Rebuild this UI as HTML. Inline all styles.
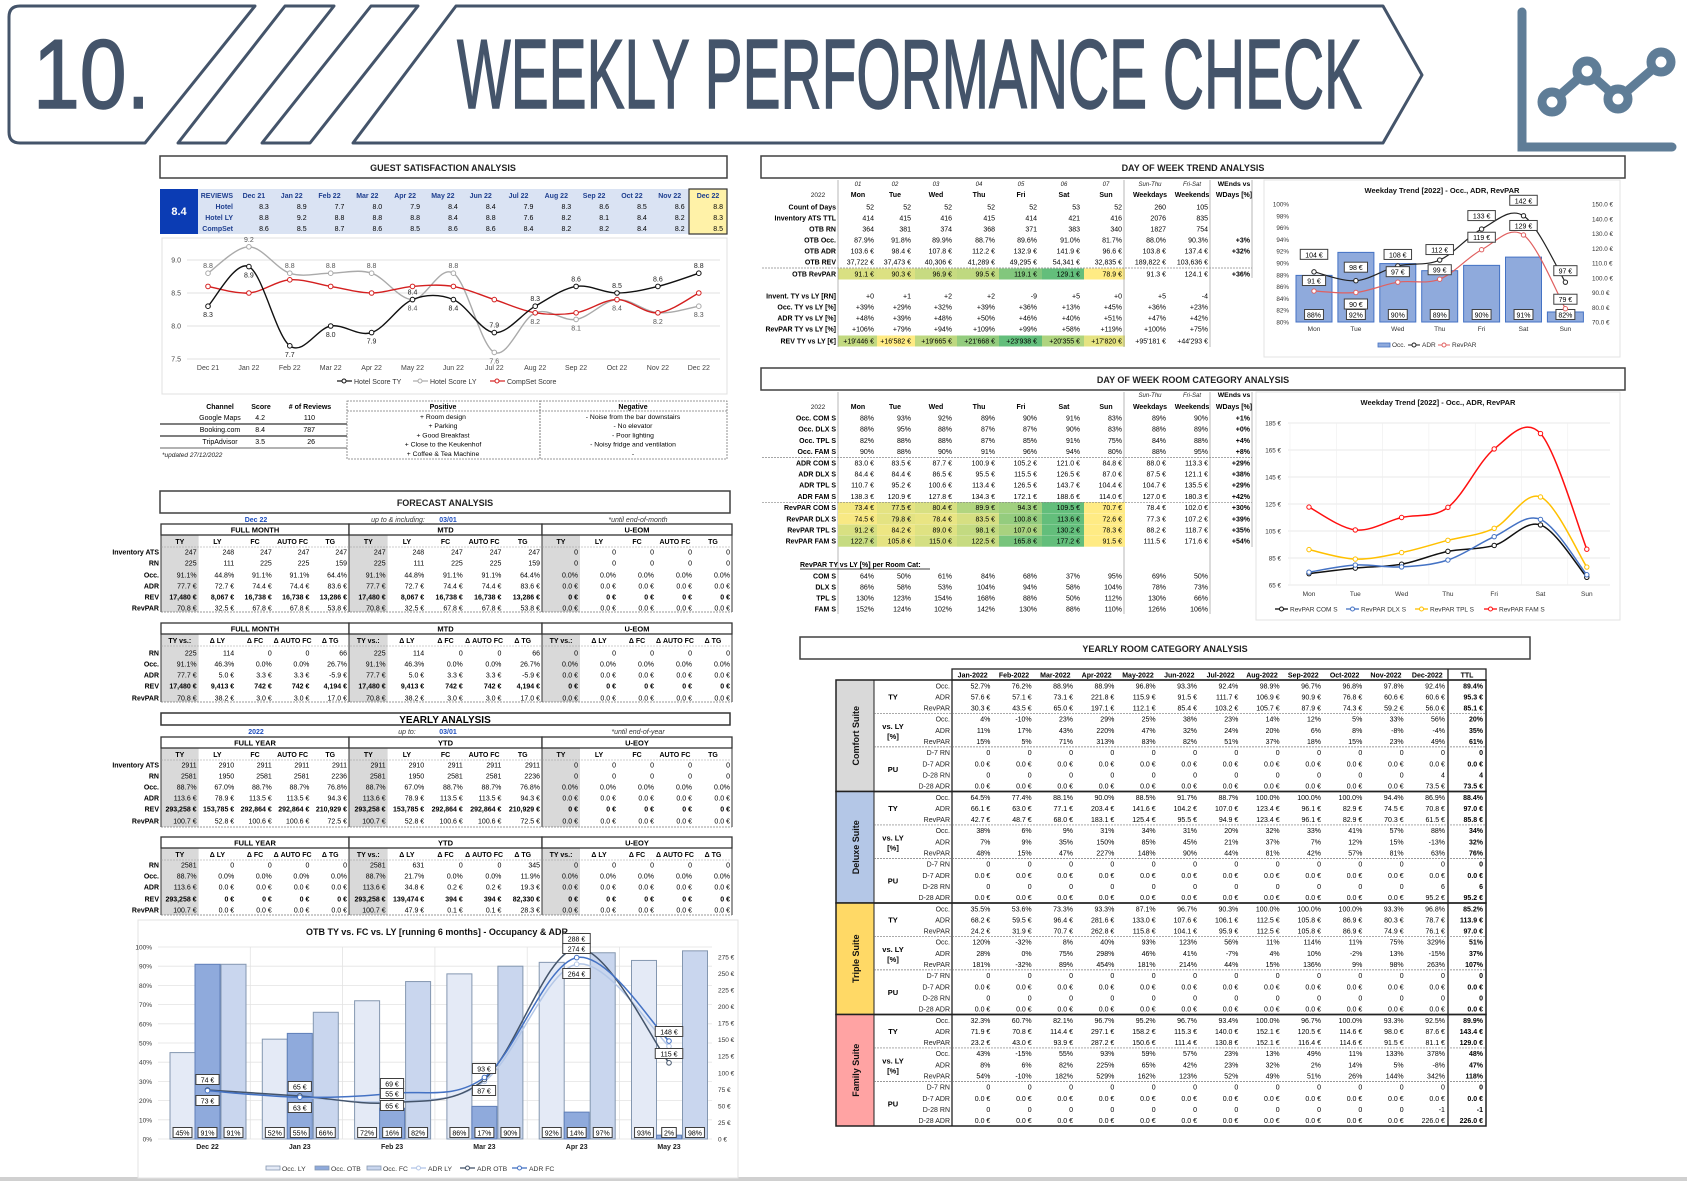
<!DOCTYPE html>
<html><head><meta charset="utf-8">
<style>
html,body{margin:0;padding:0;background:#fff;}
#wrap{position:relative;width:1687px;height:1181px;overflow:hidden;background:#fff;}
svg{position:absolute;left:0;top:0;font-family:"Liberation Sans",Arial,sans-serif;}
.h{font-family:"Liberation Sans Narrow","Liberation Sans",sans-serif;}
</style></head>
<body><div id="wrap">
<svg id="s" width="1687" height="1181" viewBox="0 0 1687 1181" xmlns="http://www.w3.org/2000/svg">
<g fill="#fff" stroke="#44546a" stroke-width="3" stroke-linejoin="round">
<path d="M20,6 L255,6 L145,143 L20,143 Q9,143 9,132 L9,17 Q9,6 20,6 Z"/>
<path d="M285,6 L334,6 L226,143 L178,143 Z"/>
<path d="M371,6 L418,6 L310,143 L262,143 Z"/>
<path d="M456,6 L1383,6 L1422,75 L1383,143 L353,143 Z"/>
</g>
<text class="h" x="33" y="108" font-size="98" fill="#44546a" stroke="#44546a" stroke-width="1.5" textLength="117" lengthAdjust="spacingAndGlyphs">10.</text>
<text class="h" x="457" y="108" font-size="98" fill="#44546a" stroke="#44546a" stroke-width="1.5" textLength="905" lengthAdjust="spacingAndGlyphs">WEEKLY PERFORMANCE CHECK</text>
<g stroke="#5f7d97" fill="none" stroke-linecap="round">
<path d="M1522,12 L1522,147 L1672,147" stroke-width="9"/>
<path d="M1552,102 L1587,71 L1618,99 L1661,62" stroke-width="9"/>
<g fill="#fff" stroke-width="9"><circle cx="1552" cy="102" r="10"/><circle cx="1587" cy="71" r="10"/><circle cx="1618" cy="99" r="10"/><circle cx="1661" cy="62" r="10"/></g>
</g>
<rect x="0" y="1177" width="1687" height="4" fill="#d0d0d0"/>
</svg>
</div>
<script>
var o='';
function T(x,y,s,fs,a,c,b,it){o+='<text x="'+x+'" y="'+y+'" font-size="'+(fs||7.5)+'" text-anchor="'+(a||'middle')+'" fill="'+(c||'#000')+'"'+(b?' font-weight="bold"':'')+(it?' font-style="italic"':'')+'>'+s+'</text>';}
function R(x,y,w,h,f,st,sw,extra){o+='<rect x="'+x+'" y="'+y+'" width="'+w+'" height="'+h+'" fill="'+(f||'none')+'" stroke="'+(st||'none')+'" stroke-width="'+(sw||1)+'" '+(extra||'')+'/>';}
function L(x1,y1,x2,y2,c,w,d){o+='<line x1="'+x1+'" y1="'+y1+'" x2="'+x2+'" y2="'+y2+'" stroke="'+(c||'#000')+'" stroke-width="'+(w||1)+'"'+(d?' stroke-dasharray="'+d+'"':'')+'/>';}
function P(d,c,w,f){o+='<path d="'+d+'" stroke="'+c+'" stroke-width="'+(w||1)+'" fill="'+(f||'none')+'"/>';}
function C(x,y,r,c,f){o+='<circle cx="'+x+'" cy="'+y+'" r="'+r+'" stroke="'+c+'" stroke-width="1" fill="'+(f||'#fff')+'"/>';}
function sm(p){var d='M'+p[0][0]+','+p[0][1];for(var i=0;i<p.length-1;i++){var p0=p[i-1]||p[i],p1=p[i],p2=p[i+1],p3=p[i+2]||p2;d+=' C'+(p1[0]+(p2[0]-p0[0])/6)+','+(p1[1]+(p2[1]-p0[1])/6)+' '+(p2[0]-(p3[0]-p1[0])/6)+','+(p2[1]-(p3[1]-p1[1])/6)+' '+p2[0]+','+p2[1];}return d;}
function num(s){return parseFloat(String(s).replace(/[^0-9.\-]/g,''));}
function cs(v,mn,mx){var t=(v-mn)/(mx-mn);if(!(t>=0))t=0;var r=Math.round(255+(99-255)*t),g=Math.round(235+(190-235)*t),b=Math.round(132+(123-132)*t);return 'rgb('+r+','+g+','+b+')';}
function TB(x,y,w,h){R(x,y,w,h,'#fff','#404040',1.5);}
function lbox(x,y,s){var w=s.length*4.3+6;R(x-w/2,y-5.5,w,10,'#fff','#404040',1);T(x,y+2.5,s,7);}

/* ===== GUEST SATISFACTION ===== */
TB(160,156,567,22);T(443,171,'GUEST SATISFACTION ANALYSIS',9,'middle','#222',true);
R(198,189,491,45,'#dae3f3');R(160,189,38,45,'#0b3cb4');T(179,215,'8.4',11,'middle','#fff',true);
R(689,189,38,45,'#fff2a8','#333',1.2);
var mo=['Dec 21','Jan 22','Feb 22','Mar 22','Apr 22','May 22','Jun 22','Jul 22','Aug 22','Sep 22','Oct 22','Nov 22','Dec 22'];
var gTY=['8.3','8.9','7.7','8.0','7.9','8.4','8.4','7.9','8.3','8.6','8.5','8.6','8.8'];
var gLY=['8.8','9.2','8.8','8.8','8.8','8.4','8.8','7.6','8.2','8.1','8.4','8.2','8.3'];
var gCS=['8.6','8.5','8.7','8.6','8.5','8.6','8.6','8.4','8.2','8.2','8.4','8.2','8.5'];
T(233,198,'REVIEWS',7,'end','#1f3f8f',true);T(233,209,'Hotel',7,'end','#1f3f8f',true);T(233,220,'Hotel LY',7,'end','#1f3f8f',true);T(233,231,'CompSet',7,'end','#1f3f8f',true);
for(var i=0;i<13;i++){var x0=i<12?235+i*37.8:689,x1=i<12?x0+37.8:727;T((x0+x1)/2,198,mo[i],7,'middle','#1f3f8f',true);T(x1-4,209,gTY[i],7,'end');T(x1-4,220,gLY[i],7,'end');T(x1-4,231,gCS[i],7,'end');}
R(162,238,565,156,'#fff','#e0e0e0',1);
[[9.0,260],[8.5,293],[8.0,326],[7.5,359]].forEach(function(a){L(187,a[1],720,a[1],'#d9d9d9',0.8);T(181,a[1]+2.5,a[0].toFixed(1),7,'end','#444');});
function gy(v){return 359-(v-7.5)*66;}function gx(i){return 208+i*40.9;}
var sers=[[gLY,'#aaa'],[gCS,'#d42020'],[gTY,'#111']];
sers.forEach(function(s){var p=s[0].map(function(v,i){return [gx(i),gy(num(v))];});P(sm(p),s[1],1.4);p.forEach(function(q){C(q[0],q[1],2.3,s[1]);});});
for(var i=0;i<13;i++){var ty=num(gTY[i]),ly=num(gLY[i]);T(gx(i),ty>=ly?gy(ty)-5:gy(ty)+11,gTY[i],7,'middle','#222');T(gx(i),ly>ty?gy(ly)-5:gy(ly)+11,gLY[i],7,'middle','#555');T(gx(i),370,mo[i],7,'middle','#444');}
L(337,381,352,381,'#111',1.2);C(344,381,2,'#111');T(354,384,'Hotel Score TY',7,'start','#333');
L(413,381,428,381,'#aaa',1.2);C(420,381,2,'#aaa');T(430,384,'Hotel Score LY',7,'start','#333');
L(490,381,505,381,'#d42020',1.2);C(497,381,2,'#d42020');T(507,384,'CompSet Score',7,'start','#333');
T(220,409,'Channel',7,'middle','#000',true);T(261,409,'Score',7,'middle','#000',true);T(310,409,'# of Reviews',7,'middle','#000',true);
[['Google Maps','4.2','110'],['Booking.com','8.4','787'],['TripAdvisor','3.5','26']].forEach(function(r,i){var y=420+i*12;T(220,y,r[0],7);T(265,y,r[1],7,'end');T(315,y,r[2],7,'end');});
L(160,424,347,424,'#333',1.2);L(160,436,347,436,'#333',1.2);L(160,448,347,448,'#333',0.8);
T(162,457,'*updated 27/12/2022',6.5,'start','#222',false,true);
R(347,401,193,58,'none','#777',0.8,'stroke-dasharray="2,1"');R(540,401,187,58,'none','#777',0.8,'stroke-dasharray="2,1"');L(347,411,727,411,'#777',0.8,'2,1');
T(443,409,'Positive',7,'middle','#000',true);T(633,409,'Negative',7,'middle','#000',true);
['+ Room design','+ Parking','+ Good Breakfast','+ Close to the Keukenhof','+ Coffee &amp; Tea Machine'].forEach(function(s,i){T(443,419+i*9.2,s,6.8);});
['- Noise from the bar downstairs','- No elevator','- Poor lighting','- Noisy fridge and ventilation','-'].forEach(function(s,i){T(633,419+i*9.2,s,6.8);});

/* ===== FORECAST ===== */
TB(160,491,570,22);T(445,506,'FORECAST ANALYSIS',9,'middle','#222',true);
var GX=[161,349,542,732];
function ftab(y0,gt,hd,lab,data,rowY,bot){
 for(var g=0;g<3;g++){var gw=GX[g+1]-GX[g],w=gw/5;R(GX[g],y0+11,w,bot-y0-11,'#d9d9d9');
  R(GX[g],y0,gw,11,'#fff','#333',1.3);T(GX[g]+gw/2,y0+8.5,gt[g],7.5,'middle','#000',true);
  for(var c=0;c<5;c++){T(GX[g]+c*w+w/2,y0+20,hd[g][c],7,'middle','#000',true);
   for(var r=0;r<lab.length;r++){T(GX[g]+(c+1)*w-2,rowY[r]+2.5,data[g][r][c],7,'end','#000',lab[r]=='REV');}}
  L(GX[g],y0,GX[g],bot,'#333',1);}
 L(GX[3],y0,GX[3],bot,'#333',1);L(GX[0],bot,GX[3],bot,'#777',0.8,'2,1');L(GX[0],y0+23,GX[3],y0+23,'#999',0.6,'2,1');
 for(var r=0;r<lab.length;r++)T(159,rowY[r]+2.5,lab[r],7,'end','#000',true);}
var h5=['TY','LY','FC','AUTO FC','TG'],hv=['TY vs.:','Δ LY','Δ FC','Δ AUTO FC','Δ TG'];
var fm=[['247','248','247','247','247'],['225','111','225','225','159'],['91.1%','44.8%','91.1%','91.1%','64.4%'],['77.7 €','72.7 €','74.4 €','74.4 €','83.6 €'],['17,480 €','8,067 €','16,738 €','16,738 €','13,286 €'],['70.8 €','32.5 €','67.8 €','67.8 €','53.8 €']];
var z6=[['0','0','0','0','0'],['0','0','0','0','0'],['0.0%','0.0%','0.0%','0.0%','0.0%'],['0.0 €','0.0 €','0.0 €','0.0 €','0.0 €'],['0 €','0 €','0 €','0 €','0 €'],['0.0 €','0.0 €','0.0 €','0.0 €','0.0 €']];
var z5=z6.slice(1);
T(256,522,'Dec 22',7,'middle','#1f4fbf',true);T(398,522,'up to &amp; including:',7,'middle','#333',false,true);T(448,522,'03/01',7,'middle','#1f4fbf',true);T(638,522,'*until end-of-month',7,'middle','#333',false,true);
ftab(524,['FULL MONTH','MTD','U-EOM'],[h5,h5,h5],['Inventory ATS','RN','Occ.','ADR','REV','RevPAR'],[fm,fm,z6],[552,563,575,586,597,608],612);
var fd=[['225','114','0','0','66'],['91.1%','46.3%','0.0%','0.0%','26.7%'],['77.7 €','5.0 €','3.3 €','3.3 €','-5.9 €'],['17,480 €','9,413 €','742 €','742 €','4,194 €'],['70.8 €','38.2 €','3.0 €','3.0 €','17.0 €']];
ftab(623,['FULL MONTH','MTD','U-EOM'],[hv,hv,hv],['RN','Occ.','ADR','REV','RevPAR'],[fd,fd,z5],[653,664,675,686,698],702);
R(161,713,569,12,'#fff','#333',1.5);T(445,723,'YEARLY ANALYSIS',10,'middle','#000',true);
T(256,734,'2022',7,'middle','#1f4fbf',true);T(407,734,'up to:',7,'middle','#333',false,true);T(448,734,'03/01',7,'middle','#1f4fbf',true);T(638,734,'*until end-of-year',7,'middle','#333',false,true);
var fy=[['2911','2910','2911','2911','2911'],['2581','1950','2581','2581','2236'],['88.7%','67.0%','88.7%','88.7%','76.8%'],['113.6 €','78.9 €','113.5 €','113.5 €','94.3 €'],['293,258 €','153,785 €','292,864 €','292,864 €','210,929 €'],['100.7 €','52.8 €','100.6 €','100.6 €','72.5 €']];
ftab(737,['FULL YEAR','YTD','U-EOY'],[h5,h5,h5],['Inventory ATS','RN','Occ.','ADR','REV','RevPAR'],[fy,fy,z6],[765,776,787,798,809,821],827);
var yf=[['2581','0','0','0','0'],['88.7%','0.0%','0.0%','0.0%','0.0%'],['113.6 €','0.0 €','0.0 €','0.0 €','0.0 €'],['293,258 €','0 €','0 €','0 €','0 €'],['100.7 €','0.0 €','0.0 €','0.0 €','0.0 €']];
var yy=[['2581','631','0','0','345'],['88.7%','21.7%','0.0%','0.0%','11.9%'],['113.6 €','34.8 €','0.2 €','0.2 €','19.3 €'],['293,258 €','139,474 €','394 €','394 €','82,330 €'],['100.7 €','47.9 €','0.1 €','0.1 €','28.3 €']];
ftab(837,['FULL YEAR','YTD','U-EOY'],[['TY','Δ LY','Δ FC','Δ AUTO FC','Δ TG'],hv,hv],['RN','Occ.','ADR','REV','RevPAR'],[yf,yy,z5],[865,876,887,899,910],915);

/* ===== OTB CHART ===== */
R(138,920,600,258,'#fff','#e3e3e3',1);
T(437,935,'OTB TY vs. FC vs. LY [running 6 months] - Occupancy &amp; ADR',9,'middle','#111',true);
var pb=1139,ph=192;
for(var k=0;k<=10;k++){var y=pb-k*ph/10;L(158,y,712,y,'#e3e3e3',0.8);T(152,y+2.5,(k*10)+'%',6.5,'end','#333');}
for(var k=0;k<=11;k++){var y=pb-k*25*ph/290;T(718,y+2.5,(k*25)+' €',6.5,'start','#333');}
for(var g=1;g<6;g++)L(158+g*92.3,947,158+g*92.3,pb,'#e3e3e3',0.8);
var oLY=[45,52,72,86,92,93],oOTB=[91,55,16,17,14,2],oFC=[91,66,82,90,97,98],om=['Dec 22','Jan 23','Feb 23','Mar 23','Apr 23','May 23'];
for(var g=0;g<6;g++){var x=158+g*92.3;
 R(x+12,pb-oLY[g]*1.92,25,oLY[g]*1.92,'#e4eaf6','#8497b0',1);R(x+37,pb-oOTB[g]*1.92,25,oOTB[g]*1.92,'#8faadc','#5f7fb8',1);R(x+63,pb-oFC[g]*1.92,25,oFC[g]*1.92,'#c9d6ee','#8497b0',1);
 lbox(x+24.5,1133,oLY[g]+'%');lbox(x+49.5,1133,oOTB[g]+'%');lbox(x+75.5,1133,oFC[g]+'%');T(x+49.5,1149,om[g],7,'middle','#222',true);}
function ay(v){return pb-v*ph/290;}
var aLY=[73,63,57,87,264,140],aOTB=[74,65,55,90,288,115],aFC=[73,63,69,93,274,148];
[[aLY,'#b4c7e7'],[aOTB,'#44546a'],[aFC,'#4472c4']].forEach(function(s){var p=s[0].map(function(v,i){return [158+i*92.3+49.5,ay(v)];});P(sm(p),s[1],1.5);p.forEach(function(q){C(q[0],q[1],2.3,s[1]);});});
[[207.5,1080,'74 €'],[207.5,1101,'73 €'],[299.8,1087,'65 €'],[299.8,1108,'63 €'],[392,1084,'69 €'],[392,1094,'55 €'],[392,1106,'65 €'],[484,1069,'93 €'],[484,1091,'87 €'],[576.5,939,'288 €'],[576.5,949,'274 €'],[576.5,974,'264 €'],[669,1032,'148 €'],[669,1054,'115 €']].forEach(function(a){lbox(a[0],a[1],a[2]);});
var lg=[['Occ. LY',282,'#e4eaf6','b'],['Occ. OTB',331,'#8faadc','b'],['Occ. FC',383,'#c9d6ee','b'],['ADR LY',428,'#b4c7e7','l'],['ADR OTB',477,'#44546a','l'],['ADR FC',529,'#4472c4','l']];
lg.forEach(function(a){if(a[3]=='b')R(a[1]-16,1166,14,4,a[2],'#8497b0',0.8);else{L(a[1]-17,1168,a[1]-2,1168,a[2],1.3);C(a[1]-9.5,1168,2,a[2]);}T(a[1],1171,a[0],6.8,'start','#333');});

/* ===== DAY OF WEEK TREND ===== */
TB(761,156,864,22);T(1193,171,'DAY OF WEEK TREND ANALYSIS',9,'middle','#222',true);
var RE=[874,911,952,995,1037,1080,1122,1166,1208,1250],CB=[838,877,915,957,999,1042,1084,1125];
var dn=['Mon','Tue','Wed','Thu','Fri','Sat','Sun','Weekdays','Weekends','WDays [%]'];
function dhead(y1,y2,nums){if(nums)for(var i=0;i<7;i++)T(RE[i]-16,y1,'0'+(i+1),6,'middle','#222',false,true);
 T(RE[7]-16,y1,'Sun-Thu',6,'middle','#222',false,true);T(RE[8]-16,y1,'Fri-Sat',6,'middle','#222',false,true);T(RE[9]-16,y1,'WEnds vs',6.8,'middle','#000',true);
 T(818,y2,'2022',6.5,'middle','#222');for(var i=0;i<10;i++)T(RE[i]-16,y2,dn[i],7,'middle','#000',true);}
function drow(y,lab,vals,col){if(col){var v7=vals.slice(0,7).map(num),mn=Math.min.apply(null,v7),mx=Math.max.apply(null,v7);for(var i=0;i<7;i++)R(CB[i],y-5.5,CB[i+1]-CB[i],11,cs(v7[i],mn,mx));}
 T(836,y+2.5,lab,7,'end','#000',true);for(var i=0;i<vals.length;i++)T(RE[i],y+2.5,vals[i],7,'end','#000',i==9);}
dhead(186,197,true);
var d1=[['Count of Days',['52','52','52','52','52','53','52','260','105','']],['Inventory ATS TTL',['414','415','416','415','414','421','416','2076','835','']],['OTB RN',['364','381','374','368','371','383','340','1827','754','']],['OTB Occ.',['87.9%','91.8%','89.9%','88.7%','89.6%','91.0%','81.7%','88.0%','90.3%','+3%']],['OTB ADR',['103.6 €','98.4 €','107.8 €','112.2 €','132.9 €','141.9 €','96.6 €','103.8 €','137.4 €','+32%']],['OTB REV',['37,722 €','37,473 €','40,306 €','41,289 €','49,295 €','54,341 €','32,835 €','189,822 €','103,636 €','']],['OTB RevPAR',['91.1 €','90.3 €','96.9 €','99.5 €','119.1 €','129.1 €','78.9 €','91.3 €','124.1 €','+36%'],1]];
var ys1=[207,218,229,240,251,262,274];d1.forEach(function(r,i){drow(ys1[i],r[0],r[1],r[2]);});L(762,268,1252,268,'#888',0.7,'2,1');
var d2=[['Invent. TY vs LY [RN]',['+0','+1','+2','+2','-9','+5','+0','+5','-4']],['Occ. TY vs LY [%]',['+39%','+29%','+32%','+39%','+36%','+13%','+45%','+36%','+23%']],['ADR TY vs LY [%]',['+48%','+39%','+48%','+50%','+46%','+40%','+51%','+47%','+42%']],['RevPAR TY vs LY [%]',['+106%','+79%','+94%','+109%','+99%','+58%','+119%','+100%','+75%']],['REV TY vs LY [€]',["+19'446 €","+16'582 €","+19'665 €","+21'668 €","+23'938 €","+20'355 €","+17'820 €","+95'181 €","+44'293 €"],1]];
var ys2=[296,307,318,329,341];d2.forEach(function(r,i){drow(ys2[i],r[0],r[1],r[2]);});
[838,1124,1210].forEach(function(x){L(x,180,x,347,'#999',0.7);L(x,392,x,614,'#999',0.7);});L(1252,180,1252,278,'#999',0.7);L(1252,392,1252,547,'#999',0.7);
/* chart1 */
R(1264,180,356,177,'#fff','#e3e3e3',1);T(1442,193,'Weekday Trend [2022] - Occ., ADR, RevPAR',7.5,'middle','#111',true);
for(var k=0;k<=10;k++){var y=322-k*11.8;T(1289,y+2.5,(80+2*k)+'%',6.3,'end','#333');}
for(var k=0;k<=8;k++){var y=322-k*14.75;T(1592,y+2.5,(70+10*k)+'.0 €',6.3,'start','#333');}
var wd=['Mon','Tue','Wed','Thu','Fri','Sat','Sun'],occ=[87.9,91.8,89.9,88.7,89.6,91.0,81.7],adr=[104,98,108,112,133,142,97],rvp=[91,90,97,99,119,129,79];
for(var i=0;i<7;i++){var cx=1293+i*41.9+21;R(cx-18,322-(occ[i]-80)*5.9,36,(occ[i]-80)*5.9,'#8faadc','#4472c4',1);T(cx,331,wd[i],6.5,'middle','#333');lbox(cx,315,Math.round(occ[i])+'%');}
function cy1(v){return 322-(v-70)*1.475;}
[[rvp,'#e06060'],[adr,'#222']].forEach(function(s){var p=s[0].map(function(v,i){return [1293+i*41.9+21,cy1(v)];});P(sm(p),s[1],1.2);p.forEach(function(q){C(q[0],q[1],2.2,s[1]);});});
var aoff=[-17,-13,-11,-10,-13,-15,-11],roff=[-10,12,-10,-9,-12,-9,-9];
for(var i=0;i<7;i++){var cx=1293+i*41.9+21;lbox(cx,cy1(adr[i])+aoff[i],adr[i]+' €');lbox(cx,cy1(rvp[i])+roff[i],rvp[i]+' €');}
R(1378,343,12,4,'#8faadc','#4472c4',0.8);T(1392,347,'Occ.',6.5,'start','#333');L(1408,345,1420,345,'#222',1);C(1414,345,2,'#222');T(1422,347,'ADR',6.5,'start','#333');L(1438,345,1450,345,'#e06060',1);C(1444,345,2,'#e06060');T(1452,347,'RevPAR',6.5,'start','#333');

/* ===== DAY OF WEEK ROOM CATEGORY ===== */
TB(761,368,864,22);T(1193,383,'DAY OF WEEK ROOM CATEGORY ANALYSIS',9,'middle','#222',true);
dhead(397,409,false);
var d3=[['Occ. COM S',['88%','93%','92%','89%','90%','91%','83%','89%','90%','+1%']],['Occ. DLX S',['88%','95%','88%','87%','87%','90%','83%','88%','89%','+0%']],['Occ. TPL S',['82%','88%','88%','87%','85%','91%','75%','84%','88%','+4%']],['Occ. FAM S',['90%','88%','90%','91%','96%','94%','80%','88%','95%','+8%']],
['ADR COM S',['83.0 €','83.5 €','87.7 €','100.9 €','105.2 €','121.0 €','84.8 €','88.0 €','113.3 €','+29%']],['ADR DLX S',['84.4 €','84.4 €','86.5 €','95.5 €','115.5 €','126.5 €','87.0 €','87.5 €','121.1 €','+38%']],['ADR TPL S',['110.7 €','95.2 €','100.6 €','113.4 €','126.5 €','143.7 €','104.4 €','104.7 €','135.5 €','+29%']],['ADR FAM S',['138.3 €','120.9 €','127.8 €','134.3 €','172.1 €','188.6 €','114.0 €','127.0 €','180.3 €','+42%']],
['RevPAR COM S',['73.4 €','77.5 €','80.4 €','89.9 €','94.3 €','109.5 €','70.7 €','78.4 €','102.0 €','+30%'],1],['RevPAR DLX S',['74.5 €','79.8 €','78.4 €','83.5 €','100.8 €','113.6 €','72.6 €','77.3 €','107.2 €','+39%'],1],['RevPAR TPL S',['91.2 €','84.2 €','89.0 €','98.1 €','107.0 €','130.2 €','78.3 €','88.2 €','118.7 €','+35%'],1],['RevPAR FAM S',['122.7 €','105.8 €','115.0 €','122.5 €','165.8 €','177.2 €','91.5 €','111.5 €','171.6 €','+54%'],1]];
d3.forEach(function(r,i){drow(418+i*11.2,r[0],r[1],r[2]);});L(762,457.5,1252,457.5,'#888',0.7,'2,1');L(762,502.3,1252,502.3,'#888',0.7,'2,1');
T(800,567,'RevPAR TY vs LY [%] per Room Cat:',7,'start','#000',true);L(800,569,930,569,'#000',0.7);
var d4=[['COM S',['64%','50%','61%','84%','68%','37%','95%','69%','50%']],['DLX S',['86%','58%','53%','104%','94%','58%','104%','78%','73%']],['TPL S',['130%','123%','154%','168%','88%','50%','112%','130%','66%']],['FAM S',['152%','124%','102%','142%','130%','88%','110%','126%','106%']]];
d4.forEach(function(r,i){drow(576+i*11,r[0],r[1]);});
/* chart2 */
R(1256,392,364,228,'#fff','#e3e3e3',1);T(1438,405,'Weekday Trend [2022] - Occ., ADR, RevPAR',7.5,'middle','#111',true);
for(var k=0;k<=6;k++){var v=65+k*20,y=585-(v-65)*1.35;L(1288,y,1610,y,'#e3e3e3',0.8);T(1281,y+2.5,v+' €',6.3,'end','#333');}
for(var i=0;i<7;i++){var x=1290+i*46.3;L(x,423,x,585,'#eee',0.6);T(1309+i*46.3,596,wd[i],6.5,'middle','#333');}
var rc=[[[73.4,77.5,80.4,89.9,94.3,109.5,70.7],'#111'],[[74.5,79.8,78.4,83.5,100.8,113.6,72.6],'#4472c4'],[[91.2,84.2,89.0,98.1,107.0,130.2,78.3],'#ffc000'],[[122.7,105.8,115.0,122.5,165.8,177.2,91.5],'#ff1010']];
rc.forEach(function(s){var p=s[0].map(function(v,i){return [1309+i*46.3,585-(v-65)*1.35];});P(sm(p),s[1],1.5);p.forEach(function(q){C(q[0],q[1],2.2,s[1]);});});
[['RevPAR COM S',1290,'#111'],['RevPAR DLX S',1361,'#4472c4'],['RevPAR TPL S',1430,'#ffc000'],['RevPAR FAM S',1499,'#ff1010']].forEach(function(a){L(a[1]-15,609,a[1]-2,609,a[2],1.3);C(a[1]-8.5,609,2,a[2]);T(a[1],611.5,a[0],6.5,'start','#333');});

/* ===== YEARLY ROOM CATEGORY ===== */
TB(800,637,730,22);T(1165,652,'YEARLY ROOM CATEGORY ANALYSIS',9,'middle','#222',true);
var ym=['Jan-2022','Feb-2022','Mar-2022','Apr-2022','May-2022','Jun-2022','Jul-2022','Aug-2022','Sep-2022','Oct-2022','Nov-2022','Dec-2022','TTL'];
function yx(i){return i<12?952+i*41.33:1448;}function yw(i){return i<12?41.33:38;}
R(952,669,534,11,'#fff','#222',1.3);for(var i=0;i<13;i++)T(yx(i)+yw(i)/2,677.5,ym[i],7,'middle','#000',true);L(1448,669,1448,1126,'#222',1.3);
var ml=['Occ.','ADR','RevPAR','Occ.','ADR','RevPAR','D-7 RN','D-7 ADR','D-28 RN','D-28 ADR'];
function pu(rn,adr,ttlrn,ttladr){var a=[],b=[],c=[],d=[];for(var i=0;i<12;i++){a.push('0');b.push('0.0 €');c.push('0');d.push('0.0 €');}a.push('0');b.push('0.0 €');c[11]=rn;c.push(ttlrn);d[11]=adr;d.push(ttladr);return [a,b,c,d];}
var sec=[['Comfort Suite','#d9d9d9',[
['52.7%','76.2%','88.9%','88.9%','96.8%','93.3%','92.4%','98.9%','96.7%','96.8%','97.8%','92.4%','89.4%'],
['57.6 €','57.1 €','73.1 €','221.8 €','115.9 €','91.5 €','111.7 €','106.9 €','90.9 €','76.8 €','60.6 €','60.6 €','95.3 €'],
['30.3 €','43.5 €','65.0 €','197.1 €','112.1 €','85.4 €','103.2 €','105.7 €','87.9 €','74.3 €','59.2 €','56.0 €','85.1 €'],
['4%','-10%','23%','29%','25%','38%','23%','14%','12%','5%','33%','56%','20%'],
['11%','17%','43%','220%','47%','32%','24%','20%','6%','8%','-8%','-4%','35%'],
['15%','5%','71%','313%','83%','82%','51%','37%','18%','15%','23%','49%','61%']].concat(pu('4','73.5 €','4','73.5 €'))],
['Deluxe Suite','#b4c7e7',[
['64.5%','77.4%','88.1%','90.0%','88.5%','91.7%','88.7%','100.0%','100.0%','100.0%','94.4%','86.9%','88.4%'],
['66.1 €','63.0 €','77.1 €','203.4 €','141.6 €','104.2 €','107.0 €','123.4 €','96.1 €','82.9 €','74.5 €','70.8 €','97.0 €'],
['42.7 €','48.7 €','68.0 €','183.1 €','125.4 €','95.5 €','94.9 €','123.4 €','96.1 €','82.9 €','70.3 €','61.5 €','85.8 €'],
['38%','6%','9%','31%','34%','31%','20%','32%','33%','41%','57%','88%','34%'],
['7%','9%','35%','150%','85%','45%','21%','37%','7%','12%','15%','-13%','32%'],
['48%','15%','47%','227%','148%','90%','44%','81%','42%','57%','81%','63%','76%']].concat(pu('6','95.2 €','6','95.2 €'))],
['Triple Suite','#ffd966',[
['35.5%','53.6%','73.3%','93.3%','87.1%','96.7%','90.3%','100.0%','100.0%','100.0%','93.3%','96.8%','85.2%'],
['68.2 €','59.5 €','96.4 €','281.6 €','133.0 €','107.6 €','106.1 €','112.5 €','105.8 €','86.9 €','80.3 €','78.7 €','113.9 €'],
['24.2 €','31.9 €','70.7 €','262.8 €','115.8 €','104.1 €','95.9 €','112.5 €','105.8 €','86.9 €','74.9 €','76.1 €','97.0 €'],
['120%','-32%','8%','40%','93%','123%','56%','11%','114%','11%','75%','329%','51%'],
['28%','0%','75%','298%','46%','41%','-7%','4%','10%','-2%','13%','-15%','37%'],
['181%','-32%','89%','454%','181%','214%','44%','15%','136%','9%','98%','263%','107%']].concat(pu('0','0.0 €','0','0.0 €'))],
['Family Suite','#ffa3a3',[
['32.3%','60.7%','82.1%','96.7%','95.2%','96.7%','93.4%','100.0%','96.7%','100.0%','93.3%','92.5%','89.9%'],
['71.9 €','70.8 €','114.4 €','297.1 €','158.2 €','115.3 €','140.0 €','152.1 €','120.5 €','114.6 €','98.0 €','87.6 €','143.4 €'],
['23.2 €','43.0 €','93.9 €','287.2 €','150.6 €','111.4 €','130.8 €','152.1 €','116.4 €','114.6 €','91.5 €','81.1 €','129.0 €'],
['43%','-15%','55%','93%','59%','57%','23%','13%','49%','11%','133%','378%','48%'],
['8%','6%','82%','225%','65%','42%','23%','32%','2%','14%','5%','-8%','47%'],
['54%','-10%','182%','529%','162%','123%','52%','49%','51%','26%','144%','342%','118%']].concat(pu('-1','226.0 €','-1','226.0 €'))]];
sec.forEach(function(s,si){var y0=680+si*111.5,rh=11.15;
 R(836,y0,38,111.5,s[1]);o+='<text transform="translate(859,'+(y0+55.75)+') rotate(-90)" font-size="9" font-weight="bold" text-anchor="middle" fill="#111">'+s[0]+'</text>';
 R(836,y0,650,111.5,'none','#222',1.5);L(874,y0,874,y0+111.5,'#222',1);L(952,y0,952,y0+111.5,'#222',1.3);
 L(874,y0+3*rh,1486,y0+3*rh,'#777',0.7,'2,1');L(874,y0+6*rh,1486,y0+6*rh,'#777',0.7,'2,1');
 T(893,y0+1.5*rh+3,'TY',7.5,'middle','#000',true);T(893,y0+4.5*rh-1,'vs. LY',7.5,'middle','#000',true);T(893,y0+4.5*rh+9,'[%]',7.5,'middle','#000',true);T(893,y0+8*rh+3,'PU',7.5,'middle','#000',true);
 for(var r=0;r<10;r++){var y=y0+r*rh+rh/2+2.7;T(950,y,ml[r],7,'end','#222');for(var i=0;i<13;i++)T(yx(i)+yw(i)-3,y,s[2][r][i],7,'end','#000',i==12);}});

document.getElementById('s').insertAdjacentHTML('beforeend',o);
</script>
</body></html>
